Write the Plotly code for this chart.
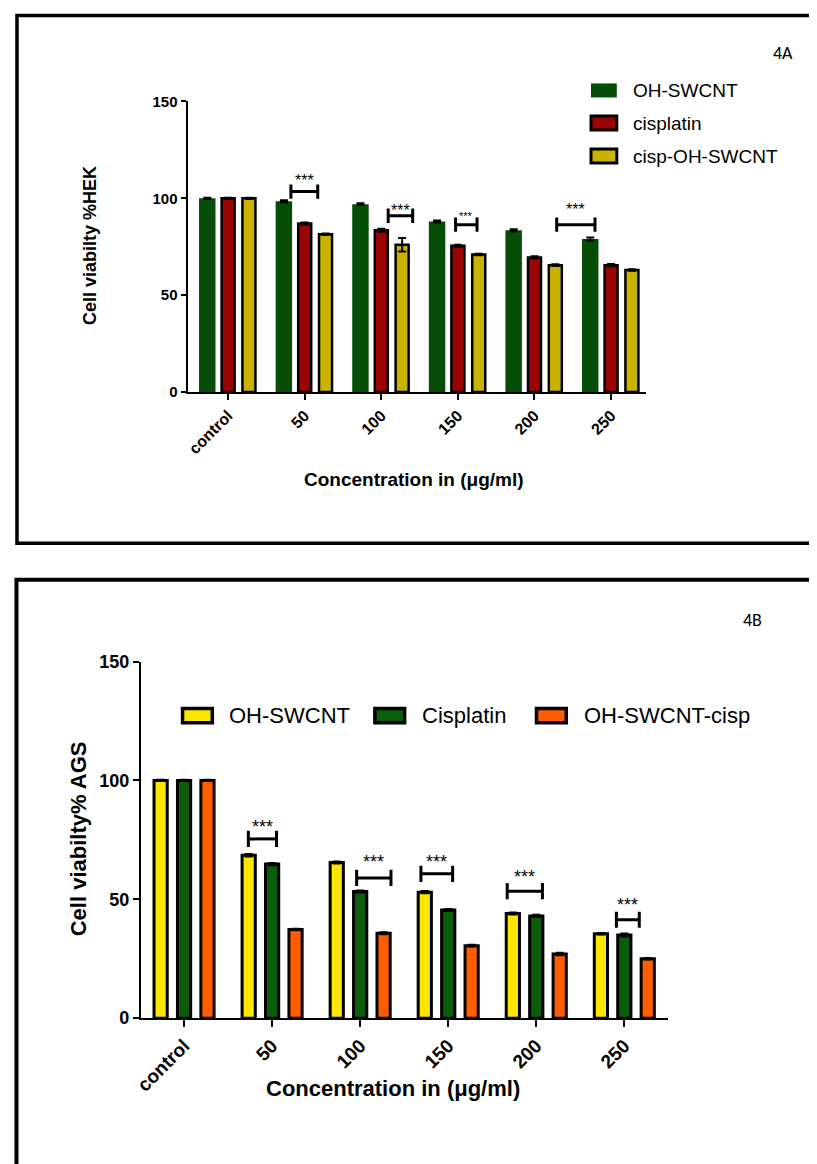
import plotly.graph_objects as go

W, H = 817, 1164

categories = ["control", "50", "100", "150", "200", "250"]

# ---------------- Panel 4A : HEK ----------------
hek_names = ["OH-SWCNT", "cisplatin", "cisp-OH-SWCNT"]
hek_oh_swcnt = [100, 98.5, 97, 88, 83.5, 79]
hek_cisplatin = [100, 87, 83.5, 75.5, 69.5, 65.5]
hek_cisp_oh_swcnt = [100, 81.5, 76, 71, 65.5, 63]
hek_oh_swcnt_err = [0.3, 0.5, 0.5, 0.5, 0.5, 0.8]
hek_cisplatin_err = [0.3, 0.5, 0.8, 0.5, 0.6, 0.6]
hek_cisp_oh_swcnt_err = [0.3, 0.4, 3.5, 0.4, 0.4, 0.4]
# significance brackets: (category index, start offset, end offset, bracket value, star value, label)
hek_sig = [
    (1, -0.18, 0.17, 103.5, 111.0, "***"),
    (2, 0.09, 0.41, 91.0, 95.2, "***"),
    (3, -0.03, 0.25, 86.4, 92.4, "***"),
    (4, 0.29, 0.79, 86.4, 95.7, "***"),
]

# ---------------- Panel 4B : AGS ----------------
ags_names = ["OH-SWCNT", "Cisplatin", "OH-SWCNT-cisp"]
ags_oh_swcnt = [100, 68.5, 65.5, 53, 44, 35.5]
ags_cisplatin = [100, 64.8, 53.3, 45.5, 43, 35]
ags_oh_swcnt_cisp = [100, 37.3, 35.7, 30.5, 27, 25]
ags_oh_swcnt_err = [0.3, 0.5, 0.4, 0.5, 0.4, 0.3]
ags_cisplatin_err = [0.3, 0.5, 0.4, 0.4, 0.5, 0.6]
ags_oh_swcnt_cisp_err = [0.3, 0.3, 0.4, 0.4, 0.5, 0.3]
ags_sig = [
    (1, -0.27, 0.05, 75.4, 81.5, "***"),
    (2, -0.04, 0.35, 59.0, 67.0, "***"),
    (3, -0.31, 0.05, 60.7, 67.0, "***"),
    (4, -0.33, 0.07, 53.4, 60.7, "***"),
    (5, -0.09, 0.17, 41.4, 48.7, "***"),
]

FONT = "Liberation Sans, Arial, sans-serif"
xs = list(range(len(categories)))

hek_colors = ["#064d08", "#9c0303", "#c9b200"]
ags_colors = ["#ffe600", "#0b5c0b", "#ff5e00"]

# page -> screenshot compensation (body margin offsets the page; height is fitted)
SY, OX, OY = 0.981, 8.0, 17.0


def px_x(X):
    return (X - OX) / W


def px_y(Y):
    return 1 - (Y / SY - OY) / H


fig = go.Figure()

# --- top bars
top_slot = 0.272
for k, (name, vals, errs, col) in enumerate(zip(
        hek_names,
        [hek_oh_swcnt, hek_cisplatin, hek_cisp_oh_swcnt],
        [hek_oh_swcnt_err, hek_cisplatin_err, hek_cisp_oh_swcnt_err],
        hek_colors)):
    outlined = k > 0
    w = 0.17 if outlined else 0.215
    fig.add_trace(go.Bar(
        x=xs, y=vals, name=name, xaxis="x", yaxis="y",
        width=w, offset=(k - 1) * top_slot - w / 2,
        marker=dict(color=col, line=dict(color="black" if outlined else col,
                                         width=2.5 if outlined else 0)),
        error_y=dict(type="data", array=errs, color="black", thickness=2, width=4),
        showlegend=False,
    ))

# --- bottom bars
bot_slot, bot_w = 0.266, 0.15
for k, (name, vals, errs, col) in enumerate(zip(
        ags_names,
        [ags_oh_swcnt, ags_cisplatin, ags_oh_swcnt_cisp],
        [ags_oh_swcnt_err, ags_cisplatin_err, ags_oh_swcnt_cisp_err],
        ags_colors)):
    fig.add_trace(go.Bar(
        x=xs, y=vals, name=name, xaxis="x2", yaxis="y2",
        width=bot_w, offset=(k - 1) * bot_slot - bot_w / 2,
        marker=dict(color=col, line=dict(color="black", width=3)),
        error_y=dict(type="data", array=errs, color="black", thickness=2, width=4),
        showlegend=False,
    ))

shapes = []
annotations = []


def add_brackets(sig, xref, yref, half, fsize, small_idx=None):
    for j, (i, a, b, yv, sv, lab) in enumerate(sig):
        x0, x1 = i + a, i + b
        ln = dict(color="black", width=3)
        shapes.append(dict(type="line", xref=xref, yref=yref, x0=x0, x1=x1, y0=yv, y1=yv, line=ln))
        for xx in (x0, x1):
            shapes.append(dict(type="line", xref=xref, yref=yref, x0=xx, x1=xx,
                               y0=yv - half, y1=yv + half, line=ln))
        size = fsize if j != small_idx else 11
        annotations.append(dict(x=(x0 + x1) / 2, y=sv, xref=xref, yref=yref, text=lab,
                                showarrow=False, xanchor="center", yanchor="middle", yshift=-3,
                                font=dict(family=FONT, size=size, color="black")))


add_brackets(hek_sig, "x", "y", 3.7, 16, small_idx=2)
add_brackets(ags_sig, "x2", "y2", 3.4, 18)

# panel borders
shapes.append(dict(type="rect", xref="paper", yref="paper",
                   x0=px_x(10), x1=px_x(840), y0=px_y(541), y1=px_y(14.3),
                   line=dict(color="black", width=3.5), fillcolor="rgba(0,0,0,0)", layer="below"))
shapes.append(dict(type="rect", xref="paper", yref="paper",
                   x0=px_x(9.5), x1=px_x(840), y0=px_y(1200), y1=px_y(577.5),
                   line=dict(color="black", width=4), fillcolor="rgba(0,0,0,0)", layer="below"))

# legends (drawn manually)
top_leg_y = [89, 121.5, 154.5]
for k, (name, col) in enumerate(zip(hek_names, hek_colors)):
    yc = top_leg_y[k]
    shapes.append(dict(type="rect", xref="paper", yref="paper",
                       x0=px_x(589), x1=px_x(615), y0=px_y(yc + 7), y1=px_y(yc - 7),
                       fillcolor=col,
                       line=dict(color="black" if k > 0 else col, width=3 if k > 0 else 0)))
    annotations.append(dict(x=px_x(629), y=px_y(yc), xref="paper", yref="paper", text=name,
                            showarrow=False, xanchor="left", yanchor="middle",
                            font=dict(family=FONT, size=19, color="black")))

bot_leg_x = [(177, 207, 222), (371, 401, 416), (534, 564, 580)]
for k, (name, col) in enumerate(zip(ags_names, ags_colors)):
    x0, x1, xt = bot_leg_x[k]
    yc = 713
    shapes.append(dict(type="rect", xref="paper", yref="paper",
                       x0=px_x(x0), x1=px_x(x1), y0=px_y(yc + 7), y1=px_y(yc - 7),
                       fillcolor=col, line=dict(color="black", width=3.5)))
    annotations.append(dict(x=px_x(xt), y=px_y(yc), xref="paper", yref="paper", text=name,
                            showarrow=False, xanchor="left", yanchor="middle",
                            font=dict(family=FONT, size=22, color="black")))

# panel labels
LBL = "Carlito, Noto Sans, sans-serif"
annotations.append(dict(x=px_x(783), y=px_y(52), xref="paper", yref="paper", text="4A",
                        showarrow=False, xanchor="center", yanchor="middle",
                        font=dict(family=LBL, size=18, color="black")))
annotations.append(dict(x=px_x(752), y=px_y(618), xref="paper", yref="paper", text="4B",
                        showarrow=False, xanchor="center", yanchor="middle",
                        font=dict(family=LBL, size=18, color="black")))

# axis titles
annotations += [
    dict(x=px_x(83), y=px_y(244), xref="paper", yref="paper", text="<b>Cell viabilty %HEK</b>",
         textangle=-90, showarrow=False, xanchor="center", yanchor="middle",
         font=dict(family=FONT, size=18, color="black")),
    dict(x=px_x(410), y=px_y(477), xref="paper", yref="paper", text="<b>Concentration in (μg/ml)</b>",
         showarrow=False, xanchor="center", yanchor="middle",
         font=dict(family=FONT, size=19, color="black")),
    dict(x=px_x(72), y=px_y(836), xref="paper", yref="paper", text="<b>Cell viabilty% AGS</b>",
         textangle=-90, showarrow=False, xanchor="center", yanchor="middle",
         font=dict(family=FONT, size=22, color="black")),
    dict(x=px_x(389), y=px_y(1085), xref="paper", yref="paper", text="<b>Concentration in (μg/ml)</b>",
         showarrow=False, xanchor="center", yanchor="middle",
         font=dict(family=FONT, size=22, color="black")),
]

axis_common = dict(showline=True, linecolor="black", linewidth=2, ticks="outside",
                   tickcolor="black", tickwidth=2, showgrid=False, zeroline=False,
                   mirror=False)

fig.update_layout(
    width=W, height=H, margin=dict(l=0, r=0, t=0, b=0),
    paper_bgcolor="white", plot_bgcolor="white",
    barmode="overlay", showlegend=False,
    xaxis=dict(domain=[px_x(182), px_x(644)], range=[-0.53, 5.45], anchor="y",
               tickvals=xs, ticktext=categories, tickangle=-45, ticklen=6,
               tickfont=dict(family=FONT, size=16, color="black", weight="bold"), **axis_common),
    yaxis=dict(domain=[px_y(390), px_y(100)], range=[0, 150], anchor="x",
               tickvals=[0, 50, 100, 150], ticklen=5,
               tickfont=dict(family=FONT, size=15, color="black", weight="bold"), **axis_common),
    xaxis2=dict(domain=[px_x(135), px_x(667)], range=[-0.49, 5.5], anchor="y2",
                tickvals=xs, ticktext=categories, tickangle=-45, ticklen=7,
                tickfont=dict(family=FONT, size=19, color="black", weight="bold"), **axis_common),
    yaxis2=dict(domain=[px_y(1015), px_y(659)], range=[0, 150], anchor="x2",
                tickvals=[0, 50, 100, 150], ticklen=6,
                tickfont=dict(family=FONT, size=18, color="black", weight="bold"), **axis_common),
    shapes=shapes, annotations=annotations,
)

fig.write_html("out.html")
